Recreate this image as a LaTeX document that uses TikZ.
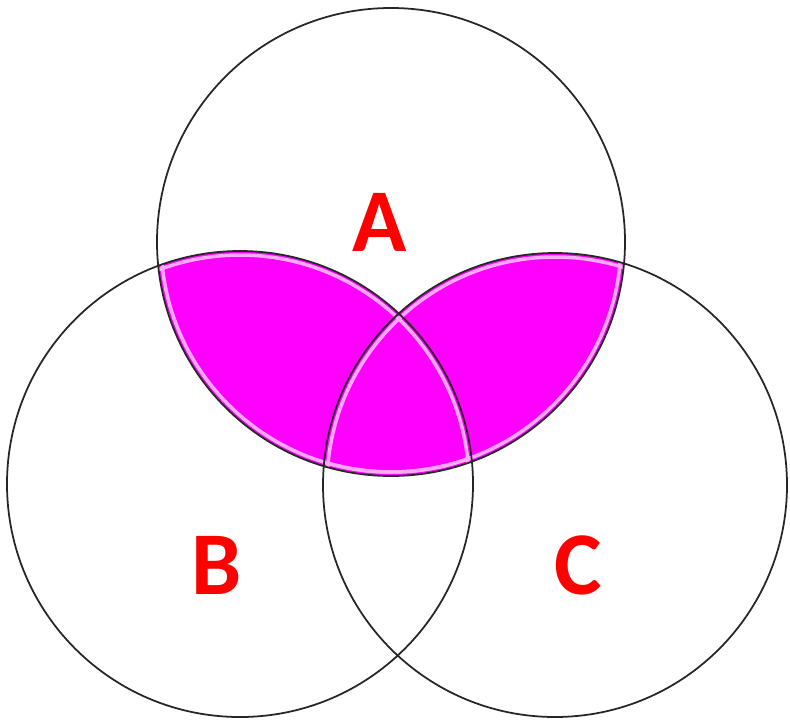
\documentclass[tikz,border=0pt]{standalone}
\usepackage{fontspec}
\setsansfont{Carlito}
\usepackage{tikz}
\definecolor{shadepink}{RGB}{255,0,255}
\definecolor{edgepink}{RGB}{255,170,255}

\begin{document}
\begin{tikzpicture}[x=0.02cm,y=-0.02cm,font=\sffamily\bfseries\fontsize{51}{51}\selectfont]
  \tikzset{setline/.style={black!85,line width=1pt},
           edgeline/.style={edgepink,line width=2pt},
           setlabel/.style={red,inner sep=0pt}}
  \useasboundingbox (0,0) rectangle (790,721);
  \coordinate (cA) at (391,242);
  \coordinate (cB) at (240,484);
  \coordinate (cC) at (555,485);
  % shaded part: A and (B or C)
  \begin{scope}
    \clip (cA) circle (234);
    \fill[shadepink] (cB) circle (233);
    \fill[shadepink] (cC) circle (232);
    \draw[edgeline] (cB) circle (229);
    \draw[edgeline] (cC) circle (228);
  \end{scope}
  \foreach \c/\r in {cB/233,cC/232}{
    \begin{scope}
      \clip (\c) circle (\r);
      \draw[edgeline] (cA) circle (230);
    \end{scope}
  }
  \draw[setline] (cA) circle (234);
  \draw[setline] (cB) circle (233);
  \draw[setline] (cC) circle (232);
  \node[setlabel] (lblA) at (380,222) {A};
  \node[setlabel] (lblB) at (217,565) {B};
  \node[setlabel] (lblC) at (578,565) {C};
\end{tikzpicture}
\end{document}
